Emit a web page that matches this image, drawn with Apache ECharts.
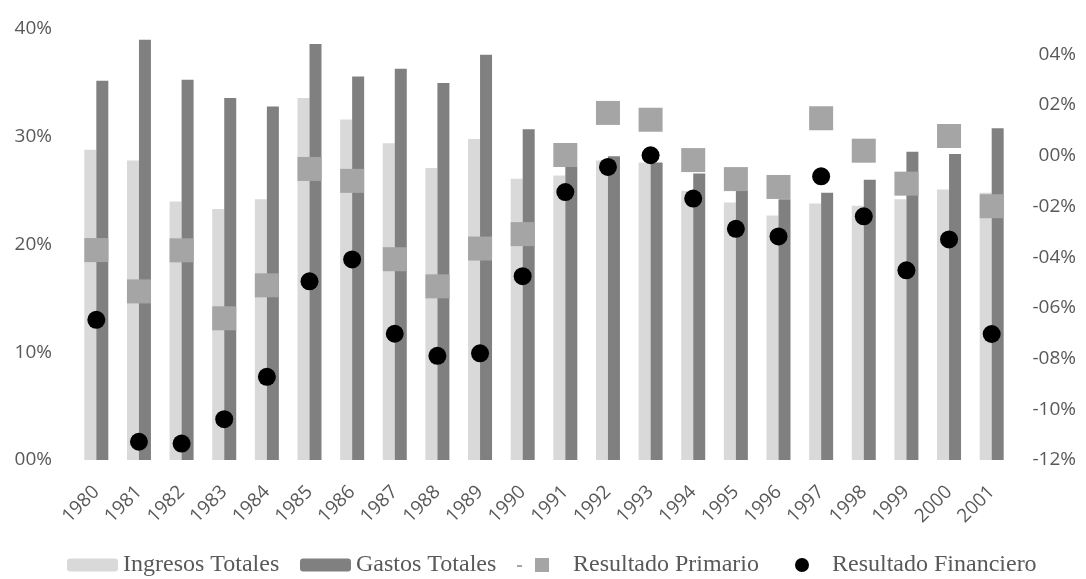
<!DOCTYPE html>
<html>
<head>
<meta charset="utf-8">
<script src="https://cdn.jsdelivr.net/npm/echarts@6/dist/echarts.min.js"></script>
<style>html,body{margin:0;padding:0;background:#fff}#c{width:1086px;height:579px}</style>
</head>
<body>
<div id="c"></div>
<script>
const years = ['1980','1981','1982','1983','1984','1985','1986','1987','1988','1989','1990','1991','1992','1993','1994','1995','1996','1997','1998','1999','2000','2001'];
const ingresos = [28.8,27.8,24.0,23.3,24.2,33.6,31.6,29.4,27.1,29.8,26.1,26.4,27.8,27.6,25.0,23.9,22.7,23.8,23.6,24.2,25.1,24.8];
const gastos = [35.2,39.0,35.3,33.6,32.8,38.6,35.6,36.3,35.0,37.6,30.7,27.2,28.2,27.6,26.6,25.0,24.2,24.8,26.0,28.6,28.4,30.8];
const primario = [-3.72,-5.35,-3.73,-6.41,-5.11,-0.52,-0.99,-4.08,-5.15,-3.66,-3.09,0.03,1.69,1.42,-0.17,-0.92,-1.23,1.48,0.20,-1.10,0.78,-1.99];
const financiero = [-6.47,-11.28,-11.35,-10.39,-8.72,-4.95,-4.09,-7.02,-7.89,-7.79,-4.75,-1.43,-0.44,0.02,-1.69,-2.88,-3.18,-0.81,-2.39,-4.52,-3.30,-7.03];
const leftTicks = {min:0, max:40, interval:10};
const rightTicks = {min:-12, max:5, interval:2};

const pad = v => String(Math.abs(v)).padStart(2,'0');
const axisFont = {fontFamily:'Open Sans', fontSize:19, color:'#595959'};
const legendFont = {fontFamily:'Liberation Serif', fontSize:24, color:'#595959'};
const legendBase = {top:553, padding:0, itemGap:0, selectedMode:false};

const chart = echarts.init(document.getElementById('c'), null, {renderer:'canvas'});
chart.setOption({
  animation:false,
  backgroundColor:'#fff',
  grid:{left:75, right:73, top:29, bottom:119},
  legend:[
    Object.assign({data:['Ingresos Totales'], left:67, itemWidth:51, itemHeight:13, textStyle:legendFont}, legendBase),
    Object.assign({data:['Gastos Totales'], left:300, itemWidth:51, itemHeight:13, textStyle:legendFont}, legendBase),
    Object.assign({data:[{name:'Resultado Primario', icon:'path://M0,7L5,7L5,9L0,9Z M18,0L32,0L32,14L18,14Z'}], left:517, itemWidth:32, itemHeight:14,
      textStyle:Object.assign({padding:[0,0,0,19]}, legendFont)}, legendBase),
    Object.assign({data:[{name:'Resultado Financiero', icon:'circle'}], left:795, itemWidth:14, itemHeight:14,
      textStyle:Object.assign({padding:[0,0,0,18]}, legendFont)}, legendBase)
  ],
  xAxis:{
    type:'category', data:years,
    axisLine:{show:false}, axisTick:{show:false},
    axisLabel:Object.assign({rotate:45, margin:29, interval:0}, axisFont),
    splitLine:{show:false}
  },
  yAxis:[
    {type:'value', min:leftTicks.min, max:leftTicks.max, interval:leftTicks.interval, position:'left',
     axisLine:{show:false}, axisTick:{show:false}, splitLine:{show:false},
     axisLabel:Object.assign({margin:23, formatter:v=>pad(v)+'%'}, axisFont)},
    {type:'value', min:rightTicks.min, max:rightTicks.max, interval:rightTicks.interval, position:'right',
     axisLine:{show:false}, axisTick:{show:false}, splitLine:{show:false},
     axisLabel:Object.assign({margin:63, align:'right', showMaxLabel:false,
       formatter:v=>(v===rightTicks.max?'':(v<0?'-':'')+pad(v)+'%')}, axisFont)}
  ],
  series:[
    {name:'Ingresos Totales', type:'bar', data:ingresos, barWidth:12, barGap:'0%', itemStyle:{color:'#d9d9d9'}, z:1},
    {name:'Gastos Totales', type:'bar', data:gastos, barWidth:12, barGap:'0%', itemStyle:{color:'#808080'}, z:1},
    {name:'Resultado Primario', type:'scatter', yAxisIndex:1, data:primario, symbol:'rect', symbolSize:24, itemStyle:{color:'#a5a5a5', opacity:1}, z:3},
    {name:'Resultado Financiero', type:'scatter', yAxisIndex:1, data:financiero, symbol:'circle', symbolSize:18, itemStyle:{color:'#000000', opacity:1}, z:4}
  ]
});
</script>
</body>
</html>
